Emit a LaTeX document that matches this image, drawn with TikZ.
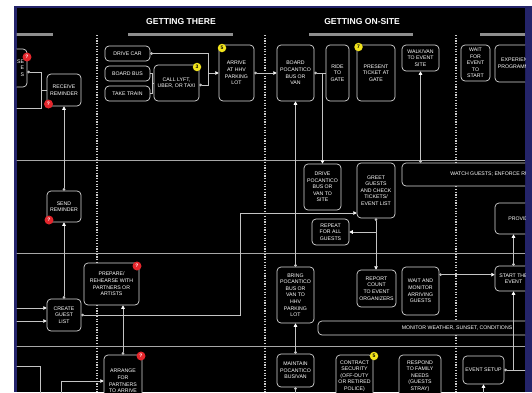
\documentclass[tikz,border=0pt]{standalone}
\usepackage{fontspec}
\setmainfont{Liberation Sans}
\usetikzlibrary{arrows.meta}
\definecolor{navy}{HTML}{24246A}
\definecolor{wirecol}{HTML}{C4C4C4}
\definecolor{edgecol}{HTML}{D8D8D8}
\definecolor{barcol}{HTML}{8E8E8E}
\definecolor{qred}{HTML}{E4262C}
\definecolor{nyellow}{HTML}{F2E41C}
\newcommand{\boxfont}{\fontsize{5.2}{6.6}\selectfont}
\newcommand{\headfont}{\fontsize{8.6}{10}\selectfont\bfseries}

\begin{document}
\begin{tikzpicture}[
        x=1pt, y=-1pt,
        >={Triangle[length=3.4pt,width=3.6pt,color=white]},
        box/.style={
            rectangle,
            draw=edgecol,
            line width=0.7pt,
            rounded corners=4pt,
            fill=black,
            text=white,
            align=center,
            font=\boxfont,
            inner sep=1pt
        },
        wire/.style={draw=wirecol, line width=0.6pt},
        arrow/.style={wire, {Circle[length=2.6pt]}->},
        feed/.style={wire, ->},
        link/.style={wire, {Circle[length=2.6pt]}-},
        lane/.style={draw=wirecol!85!black, line width=0.6pt},
        sep/.style={draw=white!80!black, line width=1.3pt, dash pattern=on 1.2pt off 1.5pt},
        bar/.style={draw=barcol, line width=3pt},
        qbadge/.style={circle, fill=qred, text=white, font=\fontsize{5}{5}\selectfont\bfseries, inner sep=0pt, minimum size=9pt},
        nbadge/.style={circle, fill=nyellow, text=black, font=\fontsize{5}{5}\selectfont\bfseries, inner sep=0pt, minimum size=8.5pt},
        head/.style={text=white, font=\headfont}
    ]

    \useasboundingbox (0,0) rectangle (532,392);
    \fill[white] (0,0) rectangle (532,392);
    \fill[navy] (14,6) rectangle (532,392);
    \fill[black] (16.7,8) rectangle (525,392);

    \begin{scope}
    \clip (16.7,8) rectangle (525,392);

    \draw[lane] (16,160) -- (525,160);
    \draw[lane] (16,253) -- (525,253);
    \draw[lane] (16,346) -- (525,346);

    \draw[sep] (97,35) -- (97,392);
    \draw[sep] (265,35) -- (265,392);
    \draw[sep] (456,35) -- (456,392);

    \draw[bar] (16,34) -- (53,34);
    \draw[bar] (128,34) -- (233,34);
    \draw[bar] (309,34) -- (413,34);
    \draw[bar] (480,34) -- (525,34);

    \node[head] (hthere) at (181,22) {GETTING THERE};
    \node[head] (honsite) at (362,22) {GETTING ON-SITE};

    \node[box, minimum width=40pt, minimum height=38pt, text width=34pt, align=right] (tl) at (7,68) {SE\\E\\S};
    \node[box, minimum width=34pt, minimum height=32pt] (rrem) at (64,90) {RECEIVE\\REMINDER};
    \node[box, minimum width=34pt, minimum height=31pt] (srem) at (64,206.5) {SEND\\REMINDER};
    \node[box, minimum width=34pt, minimum height=32pt] (cgl) at (64,315) {CREATE\\GUEST\\LIST};
    \node[box, minimum width=55pt, minimum height=42pt] (prep) at (111.5,284) {PREPARE/\\REHEARSE WITH\\PARTNERS OR\\ARTISTS};
    \node[box, minimum width=38pt, minimum height=52pt] (arr) at (123,381) {ARRANGE\\FOR\\PARTNERS\\TO ARRIVE};

    \node[box, minimum width=45pt, minimum height=15pt] (drive) at (127.5,53.5) {DRIVE CAR};
    \node[box, minimum width=45pt, minimum height=15pt] (bus) at (127.5,73.5) {BOARD BUS};
    \node[box, minimum width=45pt, minimum height=15pt] (train) at (127.5,93.5) {TAKE TRAIN};
    \node[box, minimum width=45pt, minimum height=36pt] (call) at (176.5,83) {CALL LYFT,\\UBER, OR TAXI};
    \node[box, minimum width=35pt, minimum height=56pt] (arrive) at (236.5,73) {ARRIVE\\AT HHV\\PARKING\\LOT};

    \node[box, minimum width=37pt, minimum height=56pt] (board) at (295.5,73) {BOARD\\POCANTICO\\BUS OR\\VAN};
    \node[box, minimum width=23pt, minimum height=56pt] (ride) at (337.5,73) {RIDE\\TO\\GATE};
    \node[box, minimum width=38pt, minimum height=56pt] (ticket) at (376,73) {PRESENT\\TICKET AT\\GATE};
    \node[box, minimum width=37pt, minimum height=26pt] (walk) at (420.5,58) {WALK/VAN\\TO EVENT\\SITE};
    \node[box, minimum width=29pt, minimum height=36pt] (waitev) at (475.5,63) {WAIT\\FOR\\EVENT\\TO\\START};
    \node[box, minimum width=46pt, minimum height=37pt] (exper) at (518,63.5) {EXPERIENCE\\PROGRAMMING};

    \node[box, minimum width=185pt, minimum height=23pt] (watch) at (494.5,174.5) {WATCH GUESTS; ENFORCE RULES};
    \node[box, minimum width=37pt, minimum height=46pt] (drvpoc) at (322.5,187) {DRIVE\\POCANTICO\\BUS OR\\VAN TO\\SITE};
    \node[box, minimum width=38pt, minimum height=55pt] (greet) at (376,190.5) {GREET\\GUESTS\\AND CHECK\\TICKETS/\\EVENT LIST};
    \node[box, minimum width=37pt, minimum height=26pt] (repeat) at (330.5,232) {REPEAT\\FOR ALL\\GUESTS};
    \node[box, minimum width=50pt, minimum height=31pt] (provide) at (520,218.5) {PROVIDE};

    \node[box, minimum width=37pt, minimum height=56pt] (bring) at (295.5,295) {BRING\\POCANTICO\\BUS OR\\VAN TO\\HHV\\PARKING\\LOT};
    \node[box, minimum width=39pt, minimum height=37pt] (report) at (376.5,288.5) {REPORT\\COUNT\\TO EVENT\\ORGANIZERS};
    \node[box, minimum width=37pt, minimum height=48pt] (waitmon) at (420.5,291) {WAIT AND\\MONITOR\\ARRIVING\\GUESTS};
    \node[box, minimum width=37pt, minimum height=25pt] (start) at (513.5,278.5) {START THE\\EVENT};
    \node[box, minimum width=278pt, minimum height=14pt] (monitor) at (457,328) {MONITOR WEATHER, SUNSET, CONDITIONS};

    \node[box, minimum width=37pt, minimum height=33pt] (maint) at (295.5,370.5) {MAINTAIN\\POCANTICO\\BUS/VAN};
    \node[box, minimum width=37pt, minimum height=42pt] (contract) at (354.5,376) {CONTRACT\\SECURITY\\(OFF-DUTY\\OR RETIRED\\POLICE)};
    \node[box, minimum width=42pt, minimum height=42pt] (respond) at (420,376) {RESPOND\\TO FAMILY\\NEEDS\\(GUESTS\\STRAY)};
    \node[box, minimum width=41pt, minimum height=28pt] (setup) at (483.5,370) {EVENT SETUP};

    \coordinate (lin1) at (16,108);
    \coordinate (lin2) at (16,308);
    \coordinate (lin3) at (16,321);
    \coordinate (lin4) at (61,400);
    \coordinate (lin5) at (16,366);
    \coordinate (lin6) at (40,400);
    \coordinate (lin7) at (483.5,400);
    \coordinate (lout1) at (295.5,400);
    \coordinate (lout2) at (540,370);
    \coordinate (jrr) at (41,90);
    \coordinate (ja) at (208,73);
    \coordinate (jg) at (240,213);
    \path ([yshift=-4pt]tl.east) coordinate (jt);
    \path ([yshift=-2pt]call.east) coordinate (jc);
    \path ([yshift=-8pt]waitmon.north east) coordinate (jw);

    \draw[link] (jt) -| (jrr) -- (rrem.west);
    \draw[wire] (lin1) -| (jrr);
    \draw[arrow] (srem.north) -- (rrem.south);
    \draw[arrow] (cgl.north) -- (srem.south);
    \draw[feed] (lin2) -- (lin2 -| cgl.west);
    \draw[feed] (lin3) -- (lin3 -| cgl.west);
    \draw[arrow] (cgl.east) -| (jg) -- (jg -| greet.west);
    \draw[arrow] (arr.north) -- (arr.north |- prep.south);
    \draw[feed] (lin4) |- (arr.west);
    \draw[wire] (lin5) -| (lin6);

    \draw[link] (drive.east) -| (ja);
    \draw[link] (jc) -| (ja);
    \draw[feed] (ja) -- (arrive.west);
    \draw[wire] (bus.east) -- ++(2,0) |- (call.west);
    \draw[wire] (train.east) -- ++(2,0) |- (call.west);
    \draw[arrow] (arrive.east) -- (board.west);
    \draw[link] (board.east) -- (ride.west);
    \draw[feed] (board.east -| drvpoc.north) -- (drvpoc.north);
    \draw[arrow] (bring.north) -- (board.south);
    \draw[arrow] (maint.north) -- (bring.south);
    \draw[link] (maint.south) -- (lout1);

    \draw[arrow] (greet.south) -- (greet.south |- report.north);
    \draw[feed] (greet.south |- repeat.east) -- (repeat.east);
    \draw[arrow] (walk.south |- watch.north) -- (walk.south);
    \draw[arrow] (jw) -- (jw -| start.west);
    \draw[arrow] (start.north) -- (start.north |- provide.south);
    \draw[link] (setup.east) -- (lout2);
    \draw[feed] (setup.east -| start.south) -- (start.south);
    \draw[feed] (lin7) -- (setup.south);

    \node[qbadge] (q1) at (27,57) {?};
    \node[qbadge] (q2) at (48.5,104) {?};
    \node[qbadge] (q3) at (49,220) {?};
    \node[qbadge] (q4) at (137,266) {?};
    \node[qbadge] (q5) at (141,356) {?};
    \node[nbadge] (n3) at (197,67) {3};
    \node[nbadge] (n5) at (222,48) {5};
    \node[nbadge] (n7) at (358.5,47) {7};
    \node[nbadge] (n8) at (374,356) {5};
    \end{scope}

    \end{tikzpicture}
\end{document}
